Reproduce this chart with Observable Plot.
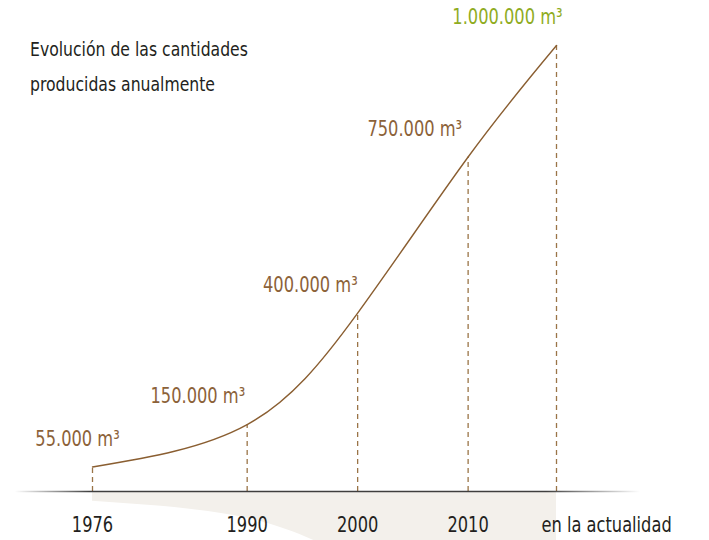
<!DOCTYPE html>
<html>
<head>
<meta charset="utf-8">
<script src="https://cdn.jsdelivr.net/npm/d3@7"></script>
<script src="https://cdn.jsdelivr.net/npm/@observablehq/plot@0.6"></script>
<style>
  html, body { margin: 0; padding: 0; background: #fff; }
  #wrap { position: relative; width: 709px; height: 540px; overflow: hidden; }
  #title { position: absolute; left: 30px; top: 32px; font-family: "DejaVu Sans Condensed", "DejaVu Sans", sans-serif; font-stretch: condensed; font-size: 20px; line-height: 35px; color: #231f20; transform: scaleX(0.87); transform-origin: 0 0; white-space: nowrap; }
  #chart { position: absolute; left: 0; top: 0; }
</style>
</head>
<body>
<div id="wrap">
  <div id="chart"></div>
  <div id="title">Evolución de las cantidades<br>producidas anualmente</div>
</div>
<script>
// Data
const years = [1976, 1990, 2000, 2010, 2018];               // 2018 = "en la actualidad"
const tickLabels = ["1976", "1990", "2000", "2010", "en la actualidad"];
const volumes = [55000, 150000, 400000, 750000, 1000000];   // m³ per year

const data = years.map((y, i) => ({year: y, value: volumes[i], label: tickLabels[i]}));

const fmt = d3.formatLocale({decimal: ",", thousands: ".", grouping: [3], currency: ["", ""]}).format(",d");
const FONT = '"DejaVu Sans Condensed", "DejaVu Sans", sans-serif';
const BROWN = "#8c6239";
const GREEN = "#8fac1f";
const labelDx = [-15, -2, 0, -6, 6];
const labelAnchor = ["middle", "end", "end", "end", "end"];

const labelMarks = data.map((d, i) => Plot.text([d], {
  x: "year", y: "value",
  text: d => fmt(d.value) + " m³",
  textAnchor: labelAnchor[i], dx: labelDx[i], dy: -28,
  fill: i === data.length - 1 ? GREEN : BROWN,
  fontSize: 21
}));

const chart = Plot.plot({
  width: 709,
  height: 540,
  marginLeft: 92,
  marginRight: 153,
  marginTop: 45,
  marginBottom: 49,
  style: {fontFamily: FONT, background: "transparent"},
  x: {domain: [1976, 2018]},
  y: {domain: [0, 1000000], axis: null},
  marks: [
    // pale "floor" reflection below the baseline
    Plot.areaY(data, {x: "year", y1: 0, y2: d => -0.4 * d.value, curve: "natural", fill: "#f3f0eb"}),
    // dashed drop lines
    Plot.ruleX(data, {x: "year", y1: 0, y2: "value", stroke: "#9a7447", strokeWidth: 1.3, strokeDasharray: "5,4"}),
    // baseline
    Plot.ruleY([0], {x1: 1969, x2: 2025.6, stroke: "url(#axisGrad)", strokeWidth: 1.6}),
    // growth curve
    Plot.line(data, {x: "year", y: "value", curve: "natural", stroke: "#8a5e31", strokeWidth: 1.4}),
    ...labelMarks,
    Plot.axisX({
      ticks: years.slice(0, 4),
      tickFormat: (d) => tickLabels[years.indexOf(d)],
      tickSize: 0,
      tickPadding: 26,
      fontSize: 21,
      fill: "#231f20",
      label: null
    }),
    Plot.axisX({
      ticks: years.slice(4),
      tickFormat: (d) => tickLabels[years.indexOf(d)],
      tickSize: 0,
      tickPadding: 26,
      fontSize: 21,
      fill: "#231f20",
      textAnchor: "start",
      dx: -15,
      label: null
    })
  ]
});

// gradient for the baseline, positioned from the x scale
const xs = chart.scale("x");
const gx1 = xs.apply(1969), gx2 = xs.apply(2025.6);
const ns = "http://www.w3.org/2000/svg";
const defs = document.createElementNS(ns, "defs");
const grad = document.createElementNS(ns, "linearGradient");
grad.setAttribute("id", "axisGrad");
grad.setAttribute("gradientUnits", "userSpaceOnUse");
grad.setAttribute("x1", gx1); grad.setAttribute("x2", gx2);
grad.setAttribute("y1", 0); grad.setAttribute("y2", 0);
[[0, 0], [0.12, 0.9], [0.85, 0.9], [1, 0]].forEach(([o, a]) => {
  const s = document.createElementNS(ns, "stop");
  s.setAttribute("offset", o);
  s.setAttribute("stop-color", "#2b2b2b");
  s.setAttribute("stop-opacity", a);
  grad.appendChild(s);
});
defs.appendChild(grad);
chart.insertBefore(defs, chart.firstChild);

document.getElementById("chart").appendChild(chart);

// condense the text horizontally to mimic the reference's narrow typeface
chart.querySelectorAll("text").forEach(t => {
  const len = t.getComputedTextLength();
  if (len > 0) {
    t.setAttribute("textLength", (len * 0.86).toFixed(1));
    t.setAttribute("lengthAdjust", "spacingAndGlyphs");
  }
});
</script>
</body>
</html>
